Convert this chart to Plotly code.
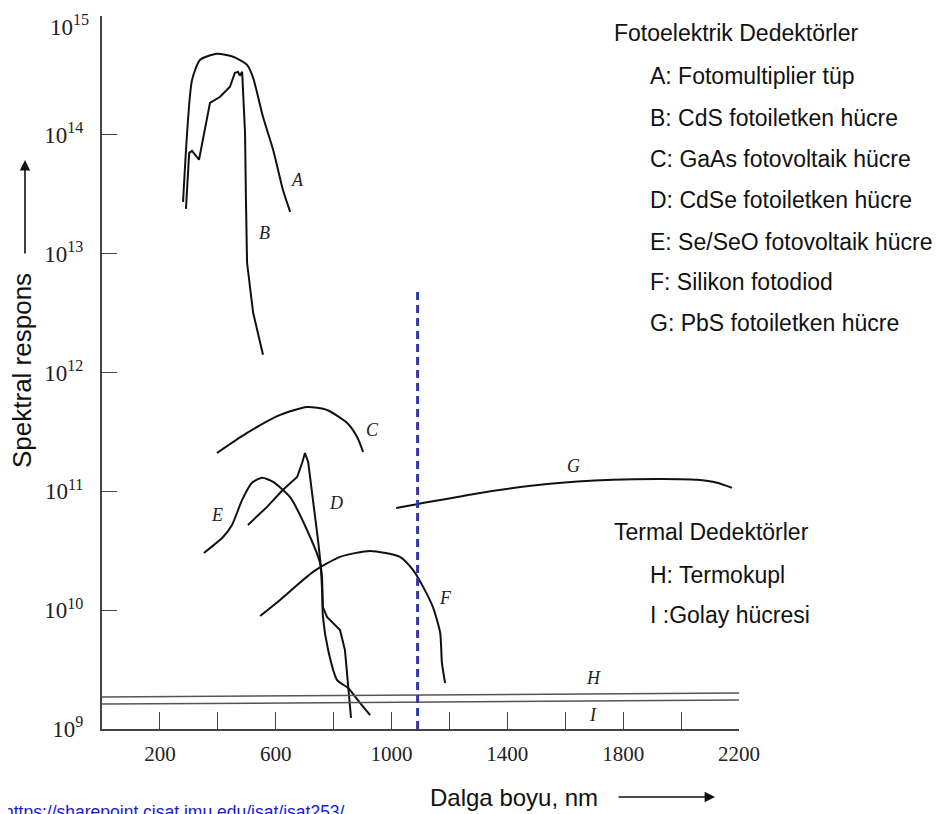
import math
import plotly.graph_objects as go

# ---- data (wavelength nm, spectral response) ----
A_x = [280, 311, 339, 397, 453, 501, 522, 556, 591, 625, 650]
A_y = [2.73e13, 2.90e14, 4.28e14, 4.81e14, 4.54e14, 3.88e14, 3.02e14, 1.42e14, 7.48e13, 3.44e13, 2.25e13]

B_x = [290, 301, 311, 335, 373, 408, 442, 459, 470, 476, 484, 494, 497, 501, 522, 556]
B_y = [2.38e13, 7.05e13, 7.33e13, 6.17e13, 1.86e14, 2.09e14, 2.54e14, 3.33e14, 3.39e14, 3.15e14, 3.39e14, 1.04e14, 3.01e13, 8.38e12, 3.18e12, 1.41e12]

C_x = [397, 501, 615, 708, 777, 846, 881, 902]
C_y = [2.10e11, 3.10e11, 4.40e11, 5.13e11, 4.84e11, 3.77e11, 2.87e11, 2.15e11]

D_x = [504, 570, 625, 674, 691, 701, 712, 729, 746, 760, 763, 777, 798, 822, 839, 850, 857, 860]
D_y = [5.21e10, 7.40e10, 1.03e11, 1.32e11, 1.73e11, 2.10e11, 1.77e11, 8.47e10, 3.90e10, 1.90e10, 1.06e10, 8.77e9, 7.80e9, 6.81e9, 4.62e9, 2.44e9, 1.66e9, 1.24e9]

E_x = [352, 418, 449, 484, 518, 553, 591, 649, 708, 753, 760, 763, 781, 812, 850, 891, 926]
E_y = [3.03e10, 4.13e10, 5.21e10, 8.47e10, 1.18e11, 1.30e11, 1.20e11, 8.97e10, 4.73e10, 2.49e10, 1.48e10, 8.77e9, 4.62e9, 2.58e9, 2.21e9, 1.66e9, 1.31e9]

F_x = [546, 615, 729, 822, 926, 1029, 1074, 1109, 1143, 1168, 1174, 1185]
F_y = [8.93e9, 1.22e10, 2.10e10, 2.81e10, 3.15e10, 2.81e10, 2.18e10, 1.57e10, 1.06e10, 6.43e9, 3.60e9, 2.44e9]

G_x = [1016, 1092, 1306, 1537, 1765, 1938, 2055, 2124, 2176]
G_y = [7.24e10, 7.83e10, 9.70e10, 1.15e11, 1.25e11, 1.27e11, 1.25e11, 1.18e11, 1.07e11]

H_x = [0, 2200]
H_y = [1.86e9, 2.01e9]
I_x = [0, 2200]
I_y = [1.62e9, 1.75e9]

cutoff_x = [1090, 1090]
cutoff_y = [1e9, 4.8e12]

x_tickvals = [200, 400, 600, 800, 1000, 1200, 1400, 1600, 1800, 2000, 2200]
x_ticktext = ["200", "", "600", "", "1000", "", "1400", "", "1800", "", "2200"]
y_tickvals = [1e9, 1e10, 1e11, 1e12, 1e13, 1e14, 1e15]
y_ticktext = ["10<sup>9</sup>", "10<sup>10</sup>", "10<sup>11</sup>", "10<sup>12</sup>",
              "10<sup>13</sup>", "10<sup>14</sup>", ""]
y_top_label = "10<sup>15</sup>"

curve_labels = ["A", "B", "C", "D", "E", "F", "G", "H", "I"]
label_x = [674, 560, 933, 808, 397, 1188, 1627, 1696, 1696]
label_y = [4.17e13, 1.48e13, 3.31e11, 7.94e10, 6.31e10, 1.26e10, 1.62e11, 2.69e9, 1.32e9]

photo_title = "Fotoelektrik Dedektörler"
photo_items = ["A: Fotomultiplier tüp", "B: CdS fotoiletken hücre", "C: GaAs fotovoltaik hücre",
               "D: CdSe fotoiletken hücre", "E: Se/SeO fotovoltaik hücre", "F: Silikon fotodiod",
               "G: PbS fotoiletken hücre"]
thermal_title = "Termal Dedektörler"
thermal_items = ["H: Termokupl", "I :Golay hücresi"]

# ---- figure ----
fig = go.Figure()
for xs, ys, shp in [(A_x, A_y, "spline"), (B_x, B_y, "linear"), (C_x, C_y, "spline"),
                    (D_x, D_y, "linear"), (E_x, E_y, "spline"), (F_x, F_y, "spline"),
                    (G_x, G_y, "spline")]:
    fig.add_trace(go.Scatter(x=xs, y=ys, mode="lines",
                             line=dict(color="#111111", width=2, shape=shp, smoothing=0.6),
                             showlegend=False, hoverinfo="skip"))
for xs, ys in [(H_x, H_y), (I_x, I_y)]:
    fig.add_trace(go.Scatter(x=xs, y=ys, mode="lines",
                             line=dict(color="#555555", width=1.5),
                             showlegend=False, hoverinfo="skip"))
fig.add_trace(go.Scatter(x=cutoff_x, y=cutoff_y, mode="lines",
                         line=dict(color="#3535a5", width=3, dash="8px,5px"),
                         showlegend=False, hoverinfo="skip"))

W, H = 942, 814
OFF = 8  # default page body margin
L, R, T, B = 102, 739, 16, 729  # plot area in page pixels
pw, ph = R - L, B - T


def px(xp):
    return (xp - L) / pw


def py(yp):
    return (B - yp) / ph


ann = []
for t, xv, yv in zip(curve_labels, label_x, label_y):
    ann.append(dict(x=xv, y=math.log10(yv), xref="x", yref="y", text="<i>" + t + "</i>",
                    showarrow=False,
                    font=dict(family="Liberation Serif", size=18, color="#222222"),
                    xanchor="center", yanchor="middle"))

# top y tick label (kept inside the page)
ann.append(dict(x=px(91), y=py(9), xref="paper", yref="paper", text=y_top_label,
                showarrow=False, xanchor="right", yanchor="top",
                font=dict(family="Liberation Serif", size=23, color="#222")))

sans = "Liberation Sans, Arial, sans-serif"
FS = 23
ann.append(dict(x=px(612), y=py(33), xref="paper", yref="paper", text=photo_title,
                showarrow=False, xanchor="left", yanchor="middle", font=dict(family=sans, size=FS, color="#111")))
item_rows = [76, 118, 159, 200, 242, 282, 323]
for t, r in zip(photo_items, item_rows):
    ann.append(dict(x=px(648), y=py(r), xref="paper", yref="paper", text=t, showarrow=False,
                    xanchor="left", yanchor="middle", font=dict(family=sans, size=FS, color="#111")))
ann.append(dict(x=px(612), y=py(532), xref="paper", yref="paper", text=thermal_title,
                showarrow=False, xanchor="left", yanchor="middle", font=dict(family=sans, size=FS, color="#111")))
for t, r in zip(thermal_items, [575, 615]):
    ann.append(dict(x=px(648), y=py(r), xref="paper", yref="paper", text=t, showarrow=False,
                    xanchor="left", yanchor="middle", font=dict(family=sans, size=FS, color="#111")))

# axis titles and arrows
ann.append(dict(x=px(22), y=py(371), xref="paper", yref="paper", text="Spektral respons",
                textangle=-90, showarrow=False, xanchor="center", yanchor="middle",
                font=dict(family=sans, size=26, color="#111")))
ann.append(dict(x=px(25), y=py(160), xref="paper", yref="paper", text="", showarrow=True,
                ax=0, ay=95, arrowhead=2, arrowsize=1.3, arrowwidth=1.6, arrowcolor="#111"))
ann.append(dict(x=px(514), y=py(797), xref="paper", yref="paper", text="Dalga boyu, nm",
                showarrow=False, xanchor="center", yanchor="middle",
                font=dict(family=sans, size=24, color="#111")))
ann.append(dict(x=px(715), y=py(797), xref="paper", yref="paper", text="", showarrow=True,
                ax=-98, ay=0, arrowhead=2, arrowsize=1.3, arrowwidth=1.6, arrowcolor="#111"))
ann.append(dict(x=px(2), y=py(800), xref="paper", yref="paper",
                text="https://sharepoint.cisat.jmu.edu/isat/isat253/", showarrow=False,
                xanchor="left", yanchor="top", font=dict(family=sans, size=17.5, color="#1a1ad0")))

fig.update_layout(
    width=W, height=H,
    margin=dict(l=L - OFF, r=W - (R - OFF), t=T - OFF, b=H - (B - OFF), pad=0, autoexpand=False),
    paper_bgcolor="white", plot_bgcolor="white",
    showlegend=False,
    annotations=ann,
    xaxis=dict(range=[0, 2200], tickvals=x_tickvals, ticktext=x_ticktext,
               ticks="inside", ticklen=17, tickwidth=1.2, tickcolor="#444",
               showline=True, linecolor="#444", linewidth=2, showgrid=False, zeroline=False,
               tickfont=dict(family="Liberation Serif", size=21, color="#222"),
               ticklabelstandoff=5, automargin=False, ticklabeloverflow="allow"),
    yaxis=dict(type="log", range=[9, 15], tickvals=y_tickvals, ticktext=y_ticktext,
               ticks="inside", ticklen=15, tickwidth=1.2, tickcolor="#444",
               showline=True, linecolor="#444", linewidth=2, showgrid=False, zeroline=False,
               tickfont=dict(family="Liberation Serif", size=23, color="#222"),
               ticklabelstandoff=12, automargin=False, ticklabeloverflow="allow"),
)

fig.write_html("out.html")
